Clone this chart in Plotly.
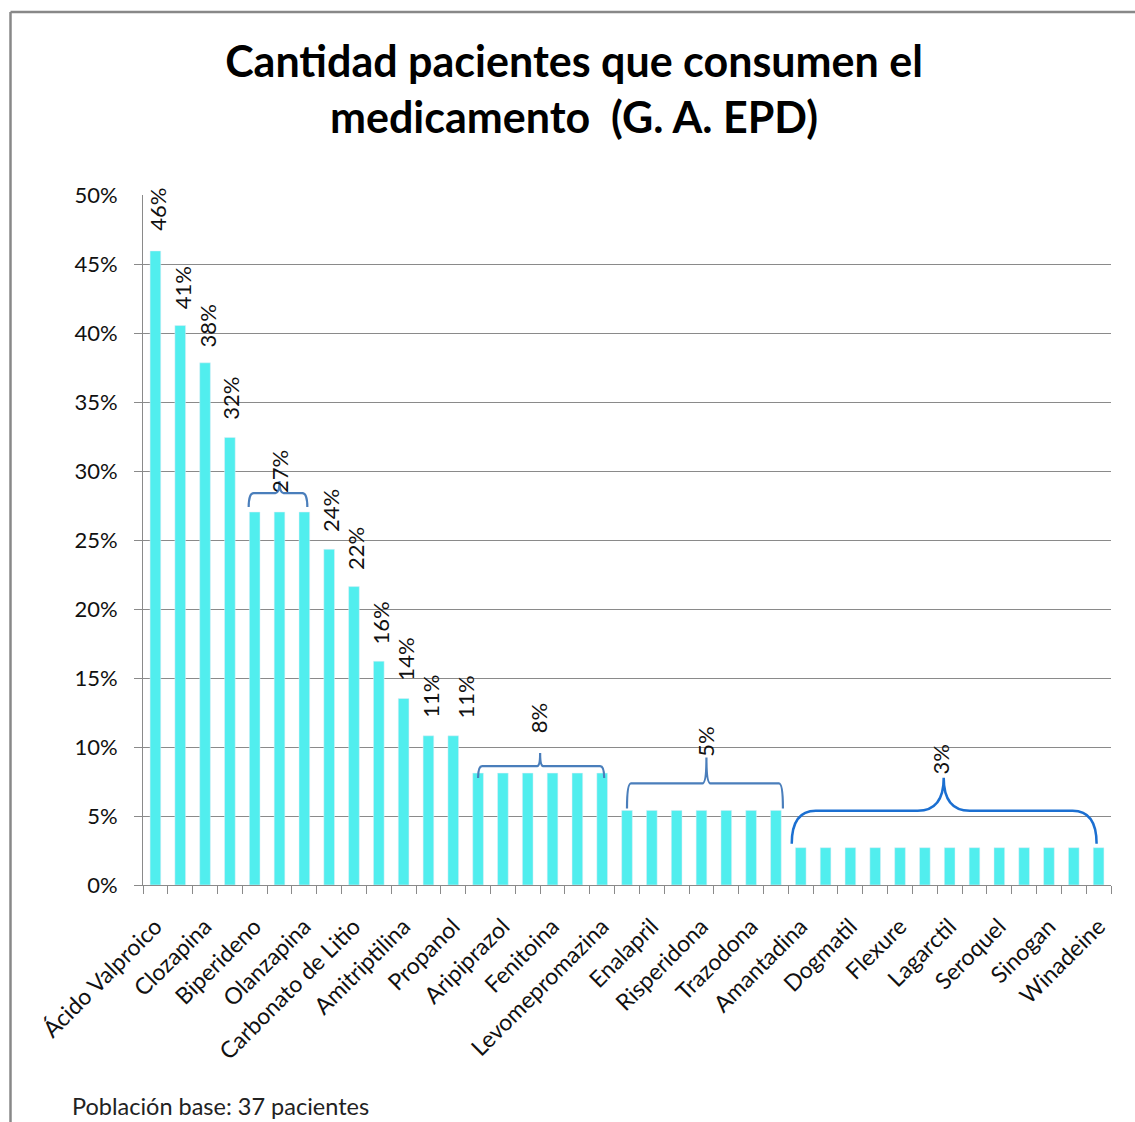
import numpy as np
import plotly.graph_objects as go

# ---------------- data ----------------
base_population = 37
patients = [17, 15, 14, 12, 10, 10, 10, 9, 8, 6, 5, 4, 4,
            3, 3, 3, 3, 3, 3,
            2, 2, 2, 2, 2, 2, 2,
            1, 1, 1, 1, 1, 1, 1, 1, 1, 1, 1, 1, 1]
tick_labels = ["Ácido Valproico", "Clozapina", "Biperideno", "Olanzapina",
               "Carbonato de Litio", "Amitriptilina", "Propanol", "Aripiprazol",
               "Fenitoina", "Levomepromazina", "Enalapril", "Risperidona",
               "Trazodona", "Amantadina", "Dogmatil", "Flexure", "Lagarctil",
               "Seroquel", "Sinogan", "Winadeine"]
y_ticks = [0, 0.05, 0.10, 0.15, 0.20, 0.25, 0.30, 0.35, 0.40, 0.45, 0.50]

values = [p / base_population for p in patients]
positions = np.arange(1, len(values) + 1)

# ---------------- layout geometry ----------------
W, H = 1135, 1122
ML, MR, MT, MB = 143, 24, 195, 237
PW, PH = W - ML - MR, H - MT - MB
XR = [0.5, len(values) + 0.5]
YR = [0, 0.5]
px_x = PW / (XR[1] - XR[0])
px_y = PH / (YR[1] - YR[0])

GRID = "#8a8a8a"
BAR = "#51eeee"
FONT = "Lato"
LABEL_SIZE = 22

fig = go.Figure()
fig.add_trace(go.Bar(x=positions, y=values, marker_color=BAR, width=0.43,
                     hoverinfo="skip"))

# single data labels: (bar index, yshift px, xshift px)
single_labels = [(0, 18, 2), (1, 14, 2), (2, 13, 2), (3, 16, 1), (7, 15, 2),
                 (8, 15, 1), (9, 15, 2), (10, 16, 1), (11, 16, 2), (12, 15, 12)]
for i, ys, xs in single_labels:
    fig.add_annotation(x=positions[i], y=values[i], text=f"{values[i]:.0%}",
                       textangle=-90, showarrow=False, yanchor="bottom",
                       xanchor="center", yshift=ys, xshift=xs,
                       font=dict(family=FONT, size=LABEL_SIZE, color="#111"))

# braces: (first bar, last bar, tip position, left px, right px, end px, mid px,
#          tip px, corner rx, tip rx, color, width, label yshift, label xshift)
braces = [
    (4, 6, 6.0, -6, 3, 5, 19, 31, 5, 4, "#4a7ebb", 2.2, 17, 0),
    (13, 18, 16.5, 0, 2, -5, 7, 20, 4, 3, "#4a7ebb", 2.2, 38, -2),
    (19, 25, 23.2, 0, 7, 2, 27, 53, 4, 4, "#4a7ebb", 2.2, 52, -1),
    (26, 38, 32.76, -9, -2, 4, 37, 70, 24, 26, "#1b6fd1", 2.5, 71, -3),
]
for (a, b, tip, lpx, rpx, epx, mpx, tpx, rc, rt, col, lw, lys, lxs) in braces:
    v = values[a]
    x0 = positions[a] + lpx / px_x
    x1 = positions[b] + rpx / px_x
    yb = v + epx / px_y
    ym = v + mpx / px_y
    yt = v + tpx / px_y
    dc = rc / px_x
    dt = rt / px_x
    path = (f"M {x0},{yb} Q {x0},{ym} {x0 + dc},{ym} L {tip - dt},{ym} "
            f"Q {tip},{ym} {tip},{yt} Q {tip},{ym} {tip + dt},{ym} "
            f"L {x1 - dc},{ym} Q {x1},{ym} {x1},{yb}")
    fig.add_shape(type="path", path=path, xref="x", yref="y",
                  line=dict(color=col, width=lw), layer="above")
    fig.add_annotation(x=tip, y=v, text=f"{v:.0%}", textangle=-90,
                       showarrow=False, yanchor="bottom", xanchor="center",
                       yshift=lys, xshift=lxs,
                       font=dict(family=FONT, size=LABEL_SIZE, color="#111"))

# outer chart border (left and top)
bx = (10.5 - ML) / PW
by_top = (H - MB - 12) / PH
fig.add_shape(type="line", xref="paper", yref="paper", x0=bx, x1=bx,
              y0=by_top, y1=(H - MB - 1130) / PH,
              line=dict(color="#888", width=2.5))
fig.add_shape(type="line", xref="paper", yref="paper", x0=bx,
              x1=(1140 - ML) / PW, y0=by_top, y1=by_top,
              line=dict(color="#888", width=2.5))

# footnote
fig.add_annotation(xref="paper", yref="paper", x=(70 - ML) / PW,
                   y=(H - MB - 1106) / PH, xanchor="left", yanchor="middle",
                   text="Población base: 37 pacientes", showarrow=False,
                   font=dict(family=FONT, size=23.5, color="#222"))

fig.update_layout(
    width=W, height=H,
    margin=dict(l=ML, r=MR, t=MT, b=MB, autoexpand=False),
    paper_bgcolor="white", plot_bgcolor="white",
    showlegend=False,
    title=dict(text="Cantidad pacientes que consumen el<br>medicamento\u00a0 (G. A. EPD)",
               x=574 / W, xanchor="center", xref="container",
               y=1 - 77 / H, yanchor="top", yref="container",
               font=dict(family=FONT, size=43, color="black", weight="bold")),
    xaxis=dict(range=XR, tickmode="array",
               tickvals=list(positions[::2]), ticktext=tick_labels,
               tickangle=-45, ticks="outside", ticklen=8,
               tickcolor="rgba(0,0,0,0)", ticklabelstandoff=10,
               tickfont=dict(family=FONT, size=23, color="#111"),
               showline=True, linecolor=GRID, linewidth=1,
               showgrid=False, zeroline=False,
               minor=dict(tickmode="array",
                          tickvals=[p + 0.5 for p in [0] + list(positions)],
                          ticks="outside", ticklen=8, tickcolor=GRID,
                          tickwidth=1, showgrid=False)),
    yaxis=dict(range=YR, tickmode="array", tickvals=y_ticks,
               tickformat=".0%", ticks="outside", ticklen=8,
               tickcolor="rgba(0,0,0,0)", ticklabelstandoff=12,
               tickfont=dict(family=FONT, size=22, color="#111"),
               showline=True, linecolor=GRID, linewidth=1,
               showgrid=False, zeroline=False,
               minor=dict(tickmode="array", tickvals=y_ticks[:-1],
                          ticks="outside", ticklen=8, tickcolor=GRID,
                          tickwidth=1, showgrid=True, gridcolor=GRID,
                          gridwidth=1)),
    bargap=0.57,
)

fig.write_html("out.html", config={"displayModeBar": False},
               post_script="document.body.style.margin='0';")
